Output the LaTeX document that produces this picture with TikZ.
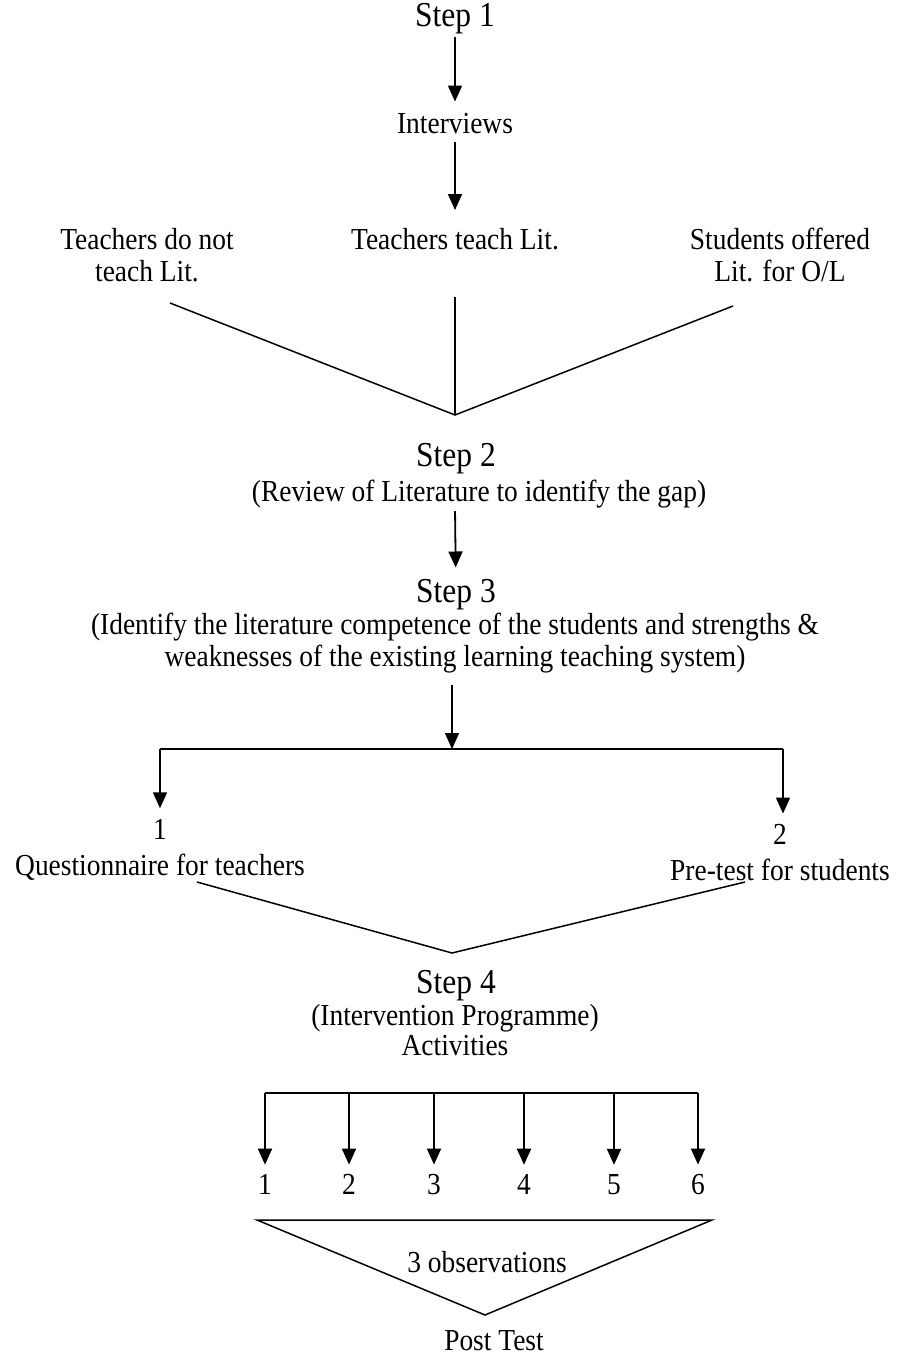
\documentclass[tikz,border=0pt]{standalone}
\usepackage{fontspec}
\setmainfont{Liberation Serif}[FakeStretch=0.9]
\usetikzlibrary{arrows.meta,positioning}

\begin{document}
\begin{tikzpicture}[
        x=1pt, y=-1pt,
        txt/.style={inner sep=0pt, align=center, font=\fontsize{30.5}{32}\selectfont},
        steplbl/.style={inner sep=0pt, align=center, font=\fontsize{35}{36}\selectfont},
        link/.style={line width=1.5pt},
        flow/.style={line width=1.8pt, -{Triangle[length=16pt,width=14pt]}}
    ]
        \useasboundingbox (0,0) rectangle (897,1364);

        % step 1 and the interviews
        \node[steplbl] (step1) at (455,19) {Step 1};
        \node[txt] (interviews) at (455,124) {Interviews};
        \node[txt] (tno) at (147,255) {Teachers do not\\teach Lit.};
        \node[txt] (tyes) at (455,239) {Teachers teach Lit.};
        \node[txt] (stud) at (780,255) {Students offered\\Lit. for O/L};

        \draw[flow, shorten <=2pt, shorten >=12pt] (step1) -- (interviews);
        \draw[flow, shorten <=8pt, shorten >=18pt] (interviews) -- (tyes);

        \coordinate (vL) at (170,303);
        \coordinate (vM) at (455,297);
        \coordinate (vR) at (733,306);
        \coordinate (vA) at (455,415);
        \draw[link] (vL) -- (vA) -- (vR);
        \draw[link] (vM) -- (vA);

        % steps 2 and 3
        \node[steplbl] (step2) at (456,459) {Step 2};
        \node[txt] (review) at (479,494) {(Review of Literature to identify the gap)};
        \node[steplbl] (step3) at (456,595) {Step 3};
        \node[txt] (ident) at (455,643) {(Identify the literature competence of the students and strengths \&\\weaknesses of the existing learning teaching system)};

        \draw[flow, shorten <=3pt, shorten >=12pt] (review.south -| vA) -- (step3);

        \coordinate (forkL) at (160,749);
        \coordinate (forkM) at (452,749);
        \coordinate (forkR) at (783,749);
        \draw[flow, shorten <=12pt] (ident.south -| forkM) -- (forkM);
        \draw[link] (forkL) -- (forkR);

        \node[txt] (qnaire) at (160,850) {1\\[4pt]Questionnaire for teachers};
        \node[txt] (pretest) at (780,853) {2\\[4pt]Pre-test for students};
        \draw[flow, shorten >=11pt] (forkL) -- (forkL |- qnaire.north);
        \draw[flow, shorten >=11pt] (forkR) -- (forkR |- pretest.north);

        \coordinate (wL) at (197,882);
        \coordinate (wA) at (452,953);
        \coordinate (wR) at (745,882);
        \draw[link] (wL) -- (wA) -- (wR);

        % step 4 and the activities
        \node[steplbl] (step4) at (456,986) {Step 4};
        \node[txt] (interv) at (455,1018) {(Intervention Programme)};
        \node[txt] (activ) at (455,1046) {Activities};

        \coordinate (barL) at (265,1093);
        \coordinate (barR) at (698,1093);
        \draw[link] (barL) -- (barR);
        \foreach \n/\x in {1/265,2/349,3/434,4/524,5/614,6/698} {
            \coordinate (bar\n) at (\x,1093);
            \node[txt, anchor=base] (act\n) at (\x,1194) {\n};
            \draw[flow, shorten >=9pt] (bar\n) -- (act\n.north);
        }

        % observations and post test
        \coordinate (triL) at (257,1220);
        \coordinate (triR) at (712,1220);
        \coordinate (triB) at (485,1315);
        \draw[link] (triL) -- (triR) -- (triB) -- cycle;
        \node[txt] (obs) at (487,1262) {3 observations};
        \node[txt] (post) at (494,1341) {Post Test};
    \end{tikzpicture}
\end{document}
